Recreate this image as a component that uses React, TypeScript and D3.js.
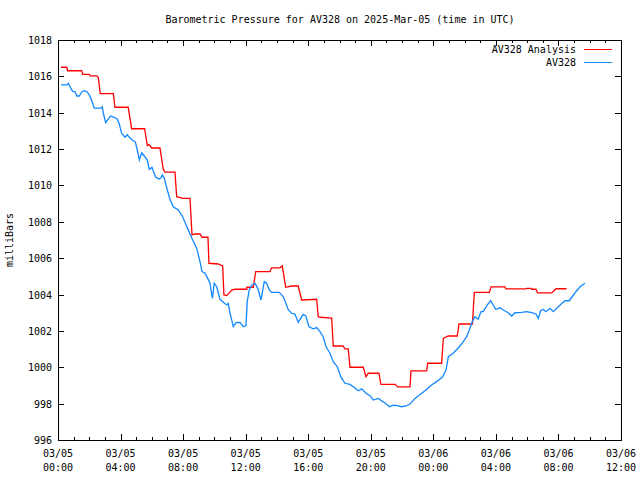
import React from "react";
import * as d3 from "d3";

// Time in hours after 2025-03-05 00:00 UTC, pressure in millibars
const analysisHours = [0.19,0.56,0.61,1.52,1.57,2.0,2.05,2.47,2.58,2.70,3.54,3.64,4.49,4.71,5.54,5.71,5.82,5.99,6.52,6.73,6.84,7.48,7.59,7.99,8.44,8.57,8.76,9.08,9.21,9.59,9.65,10.25,10.53,10.61,10.79,11.11,11.32,12.07,12.08,12.49,12.64,13.55,13.66,14.19,14.34,14.56,14.94,15.36,15.58,16.54,16.64,16.75,17.50,17.60,18.22,18.35,18.56,18.67,19.52,19.69,19.84,20.52,20.65,21.55,21.72,22.51,22.57,23.57,23.64,24.53,24.64,24.95,25.53,25.64,26.50,26.62,27.58,27.69,28.58,28.64,29.92,29.97,30.24,30.29,30.56,30.67,31.57,31.84,32.52];
const analysisValues = [1016.50,1016.50,1016.31,1016.31,1016.11,1016.11,1016.03,1016.03,1015.93,1015.05,1015.05,1014.30,1014.30,1013.12,1013.12,1012.19,1012.26,1012.06,1012.06,1010.89,1010.73,1010.73,1009.38,1009.29,1009.29,1007.28,1007.33,1007.33,1007.15,1007.15,1005.72,1005.68,1005.57,1003.98,1003.94,1004.25,1004.29,1004.29,1004.40,1004.40,1005.26,1005.26,1005.47,1005.47,1005.58,1004.40,1004.47,1004.47,1003.70,1003.74,1002.78,1002.75,1002.71,1001.17,1001.17,1001.01,1001.01,1000.00,1000.00,999.48,999.67,999.67,999.06,999.06,998.92,998.92,999.80,999.80,1000.22,1000.22,1001.59,1001.72,1001.72,1002.38,1002.38,1004.12,1004.12,1004.42,1004.42,1004.31,1004.31,1004.34,1004.34,1004.29,1004.29,1004.09,1004.09,1004.32,1004.32];

const stationHours = [0.19,0.56,0.66,0.88,0.98,1.09,1.20,1.36,1.52,1.66,1.84,2.0,2.15,2.32,2.75,2.83,2.90,3.05,3.22,3.37,3.58,3.79,3.92,4.07,4.28,4.43,4.56,4.81,4.94,5.07,5.20,5.35,5.52,5.71,5.84,6.01,6.09,6.25,6.46,6.57,6.67,6.80,6.99,7.16,7.37,7.69,7.97,8.33,8.61,8.87,9.08,9.21,9.40,9.57,9.72,9.87,9.99,10.15,10.36,10.61,10.79,10.89,11.00,11.21,11.38,11.64,11.85,12.02,12.10,12.23,12.39,12.60,12.77,12.98,13.19,13.34,13.51,13.66,14.15,14.41,14.73,14.94,15.15,15.36,15.52,15.68,15.84,16.05,16.32,16.54,16.75,16.96,17.14,17.39,17.60,17.86,18.08,18.35,18.67,18.93,19.20,19.42,19.69,19.95,20.16,20.48,20.76,20.91,21.18,21.44,21.69,21.98,22.25,22.51,22.83,23.19,23.47,23.89,24.21,24.60,24.81,24.96,25.27,25.66,25.92,26.13,26.30,26.49,26.66,26.87,27.05,27.19,27.45,27.67,27.79,27.99,28.26,28.47,28.79,29.01,29.22,29.65,29.97,30.29,30.56,30.71,30.86,31.03,31.20,31.46,31.67,31.99,32.21,32.42,32.69,32.91,33.17,33.38,33.70];
const stationValues = [1015.53,1015.53,1015.62,1015.25,1015.16,1015.16,1014.92,1014.92,1015.14,1015.21,1015.16,1014.98,1014.70,1014.25,1014.25,1014.33,1013.97,1013.45,1013.66,1013.82,1013.75,1013.66,1013.38,1012.87,1012.65,1012.79,1012.65,1012.46,1012.41,1011.95,1011.40,1011.80,1011.62,1011.40,1010.89,1011.00,1010.80,1010.45,1010.36,1010.41,1010.58,1010.39,1009.75,1009.24,1008.83,1008.65,1008.28,1007.55,1007.00,1006.54,1005.81,1005.26,1005.17,1004.89,1004.62,1003.79,1004.62,1004.43,1003.74,1003.55,1003.43,1003.52,1002.97,1002.23,1002.45,1002.47,1002.23,1002.29,1003.61,1004.25,1004.53,1004.62,1004.34,1003.70,1004.71,1004.62,1004.25,1004.12,1004.12,1003.88,1003.15,1002.97,1002.93,1002.47,1002.69,1002.91,1002.84,1002.23,1002.11,1002.18,1001.96,1001.68,1001.13,1000.77,1000.31,1000.03,999.48,999.12,999.06,998.90,998.71,998.81,998.57,998.44,998.20,998.29,998.11,998.05,997.83,997.92,997.89,997.83,997.87,997.98,998.29,998.53,998.71,999.03,999.21,999.48,999.85,1000.58,1000.77,1001.13,1001.41,1001.68,1002.05,1002.51,1002.78,1002.64,1003.06,1003.06,1003.43,1003.66,1003.48,1003.19,1003.27,1003.15,1003.00,1002.82,1003.00,1003.02,1003.06,1003.00,1002.93,1002.69,1003.11,1003.19,1003.06,1003.24,1003.06,1003.33,1003.51,1003.66,1003.66,1003.92,1004.21,1004.43,1004.62];

const yTicks = [996, 998, 1000, 1002, 1004, 1006, 1008, 1010, 1012, 1014, 1016, 1018];
const seriesNames = ["AV328 Analysis", "AV328"];
const seriesColors = ["#ff0000", "#1188ff"];
const titleText = "Barometric Pressure for AV328 on 2025-Mar-05 (time in UTC)";
const yLabel = "milliBars";

const start = Date.UTC(2025, 2, 5, 0, 0);
const toDate = (h: number) => new Date(start + h * 3600 * 1000);

export default function App() {
  const W = 640, H = 480;
  const left = 58, right = 621, top = 40, bottom = 440;
  const x = d3.scaleUtc().domain([toDate(0), toDate(36)]).range([left, right]);
  const y = d3.scaleLinear().domain([996, 1018]).range([bottom, top]);
  const majorTicks = x.ticks(d3.utcHour.every(4)!);
  const minorTicks = x.ticks(d3.utcHour.every(1)!);
  const fmtDate = d3.utcFormat("%m/%d");
  const fmtTime = d3.utcFormat("%H:%M");

  const line = d3.line<[number, number]>()
    .x((d) => x(toDate(d[0])))
    .y((d) => y(d[1]));
  const analysis = analysisHours.map((h, i) => [h, analysisValues[i]] as [number, number]);
  const station = stationHours.map((h, i) => [h, stationValues[i]] as [number, number]);

  const font = "'DejaVu Sans Mono', monospace";
  const fs = 10;
  const major = 6, minor = 3;

  return (
    <svg width={W} height={H} style={{ position: "absolute", left: 0, top: 0, background: "#fff" }}
      fontFamily={font} fontSize={fs}>
      <rect x={0} y={0} width={W} height={H} fill="#fff" />
      <text x={340} y={23} textAnchor="middle" fill="#000">{titleText}</text>
      <text transform={`translate(13,240) rotate(-90)`} textAnchor="middle" fill="#000">{yLabel}</text>
      <g shapeRendering="crispEdges" stroke="#000" strokeWidth={1}>
        {yTicks.map((t) => (
          <g key={"y" + t}>
            <line x1={left} x2={left + major} y1={Math.round(y(t)) + 0.5} y2={Math.round(y(t)) + 0.5} />
            <line x1={right - major} x2={right} y1={Math.round(y(t)) + 0.5} y2={Math.round(y(t)) + 0.5} />
          </g>
        ))}
        {minorTicks.map((t, i) => {
          const isMajor = t.getUTCHours() % 4 === 0;
          const len = isMajor ? major : minor;
          const xx = Math.round(x(t)) + 0.5;
          return (
            <g key={"x" + i}>
              <line x1={xx} x2={xx} y1={bottom} y2={bottom - len} />
              <line x1={xx} x2={xx} y1={top} y2={top + len} />
            </g>
          );
        })}
        <rect x={left + 0.5} y={top + 0.5} width={right - left} height={bottom - top} fill="none" />
      </g>
      {yTicks.map((t) => (
        <text key={"yl" + t} x={52} y={y(t) + 4} textAnchor="end" fill="#000">{t}</text>
      ))}
      {majorTicks.map((t, i) => (
        <g key={"xl" + i}>
          <text x={x(t)} y={457} textAnchor="middle" fill="#000">{fmtDate(t)}</text>
          <text x={x(t)} y={471} textAnchor="middle" fill="#000">{fmtTime(t)}</text>
        </g>
      ))}
      <path d={line(analysis) ?? ""} fill="none" stroke={seriesColors[0]} strokeWidth={1.3} />
      <path d={line(station) ?? ""} fill="none" stroke={seriesColors[1]} strokeWidth={1.3} />
      {seriesNames.map((name, i) => (
        <g key={name}>
          <text x={576} y={53 + i * 13} textAnchor="end" fill="#000">{name}</text>
          <line x1={584} x2={612} y1={49.5 + i * 13} y2={49.5 + i * 13} stroke={seriesColors[i]} strokeWidth={1.3} shapeRendering="crispEdges" />
        </g>
      ))}
    </svg>
  );
}
